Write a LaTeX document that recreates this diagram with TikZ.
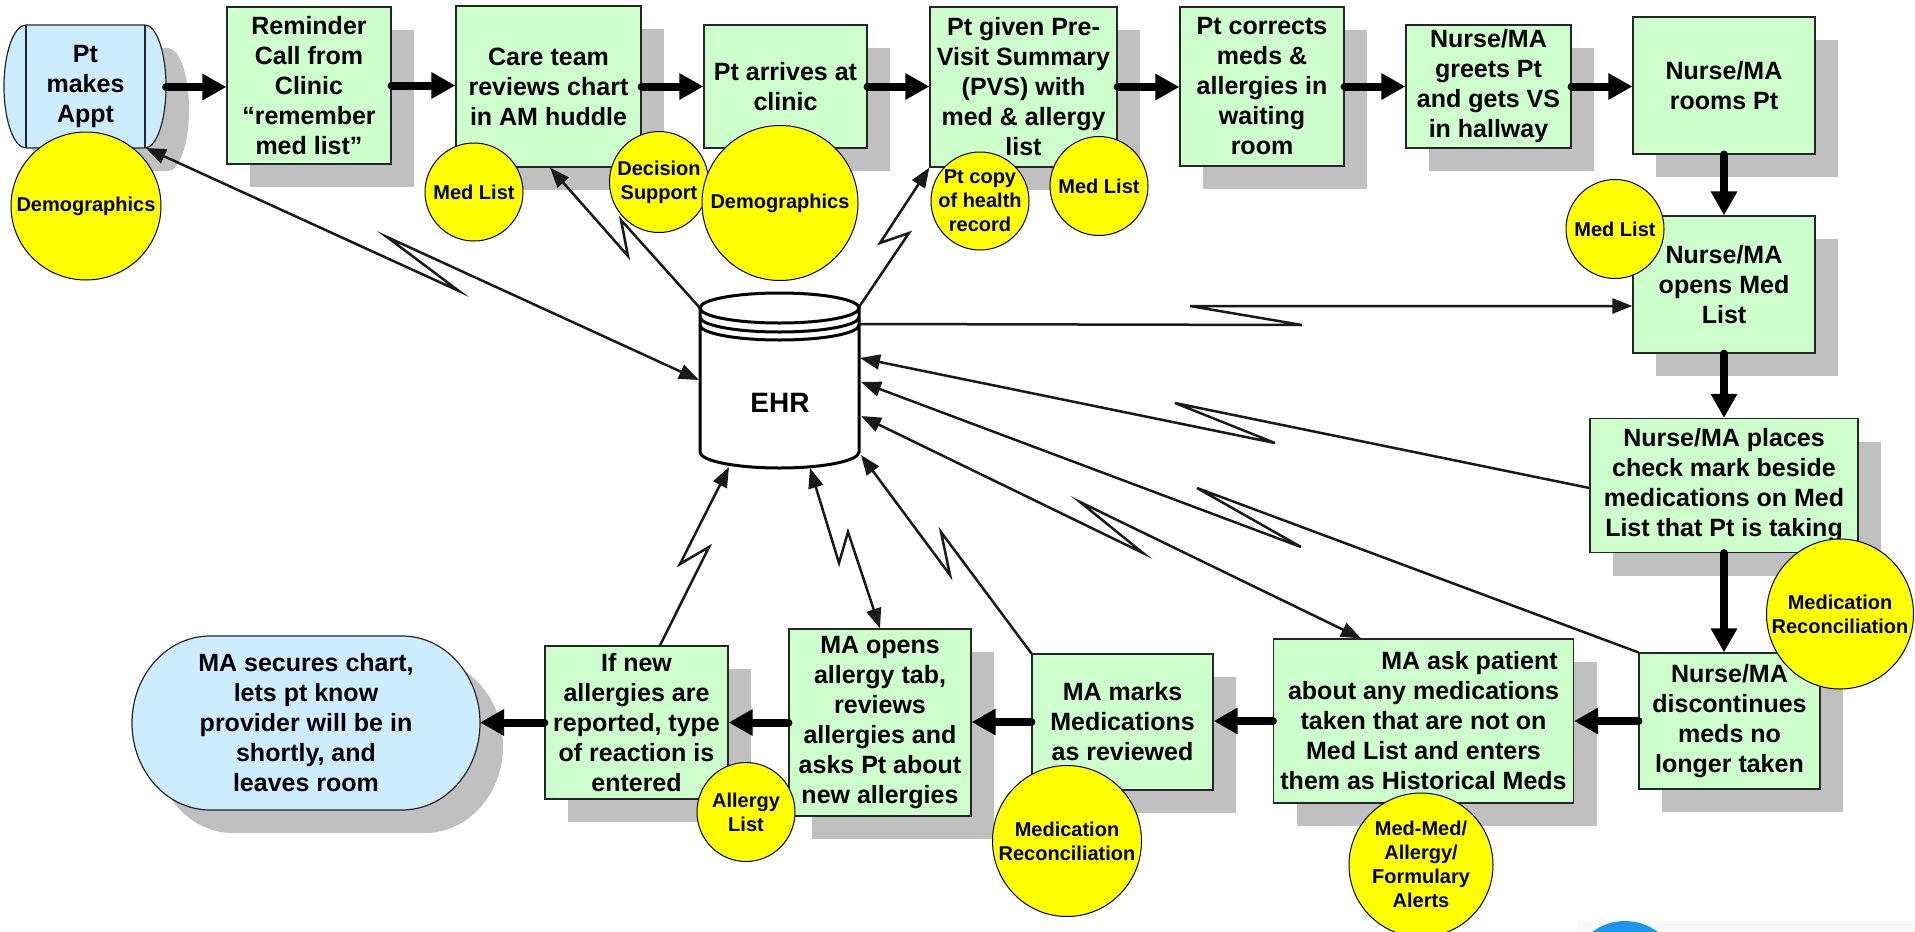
\documentclass[tikz,border=0pt]{standalone}
\usepackage{fontspec}
\setmainfont{Liberation Sans}
\usetikzlibrary{arrows.meta,shapes.geometric,shadows}
\definecolor{boxgreen}{HTML}{CCFFCC}
\definecolor{boxblue}{HTML}{CCECFF}
\definecolor{shadowgray}{HTML}{C0C0C0}
\definecolor{bubbleyellow}{HTML}{FFFF00}
\definecolor{logoblue}{HTML}{1E96EB}
\definecolor{bandgray}{HTML}{F8F8F8}
\newcommand{\bxfont}{\fontsize{25}{30}\selectfont\bfseries}
\newcommand{\ccfont}{\fontsize{20}{24}\selectfont\bfseries}
\begin{document}
\begin{tikzpicture}[x=1pt,y=-1pt,
  stepbox/.style={draw=black!85, line width=1.2pt, fill=boxgreen, inner sep=1pt, align=center, font=\bxfont,
    general shadow={draw=none, fill=shadowgray, shadow xshift=23pt, shadow yshift=-23pt}},
  bubble/.style={ellipse, draw=black, line width=1pt, fill=bubbleyellow, inner sep=0pt},
  bubbletext/.style={font=\ccfont, align=center, inner sep=0pt},
  bigarrow/.style={line width=8pt, line cap=round, -{Triangle[length=24pt,width=25pt]}},
  thinlink/.style={line width=2.5pt, draw=black!90, line join=miter},
  tipE/.style={-{Triangle[length=20pt,width=15pt]}},
  tipB/.style={{Triangle[length=20pt,width=15pt]}-{Triangle[length=20pt,width=15pt]}},
  ehrline/.style={line width=3pt, draw=black}
]
\clip (0,0) rectangle (1915,932);
\fill[white] (0,0) rectangle (1915,932);
% bottom-right faint band and partial logo
\fill[bandgray] (1577,921) rectangle (1915,932);
\fill[logoblue] (1625,976) circle[radius=55];

% ---- Pt makes Appt (horizontal storage shape)
\fill[shadowgray, shift={(23,23)}] (26,25) -- (145,25) arc[start angle=-90,end angle=90,x radius=21,y radius=61.5] -- (26,148) arc[start angle=90,end angle=270,x radius=22,y radius=61.5] -- cycle;
\filldraw[fill=boxblue, draw=black!85, line width=1.2pt] (26,25) -- (145,25) arc[start angle=-90,end angle=90,x radius=21,y radius=61.5] -- (26,148) arc[start angle=90,end angle=270,x radius=22,y radius=61.5] -- cycle;
\draw[black!85, line width=1.2pt] (26,25) -- (26,148) (145,25) -- (145,148);
\node[font=\bxfont, align=center] (appt) at (85.5,86.5) {Pt\\makes\\Appt};
\coordinate (apptE) at (166,87);
\coordinate (apptSE) at (146,148);

% ---- MA secures chart (stadium)
\fill[shadowgray, shift={(23,23)}] (210,636) -- (402,636) arc[start angle=-90,end angle=90,x radius=78,y radius=87] -- (210,810) arc[start angle=90,end angle=270,x radius=78,y radius=87] -- cycle;
\filldraw[fill=boxblue, draw=black!85, line width=1.2pt] (210,636) -- (402,636) arc[start angle=-90,end angle=90,x radius=78,y radius=87] -- (210,810) arc[start angle=90,end angle=270,x radius=78,y radius=87] -- cycle;
\node[font=\bxfont, align=center] (secure) at (306,723) {MA secures chart,\\lets pt know\\provider will be in\\shortly, and\\leaves room};
\coordinate (secureE) at (480,723);

% ---- process boxes
\node[stepbox, minimum width=164pt, minimum height=157pt] (reminder) at (309,85.5) {Reminder\\Call from\\Clinic\\“remember\\med list”};
\node[stepbox, minimum width=185pt, minimum height=161pt] (care) at (548.5,86.5) {Care team\\reviews chart\\in AM huddle};
\node[stepbox, minimum width=163pt, minimum height=123pt] (arrives) at (785.5,86.5) {Pt arrives at\\clinic};
\node[stepbox, minimum width=187pt, minimum height=160pt] (given) at (1023.5,87) {Pt given Pre-\\Visit Summary\\(PVS) with\\med \& allergy\\list};
\node[stepbox, minimum width=164pt, minimum height=159pt] (corrects) at (1262,86.5) {Pt corrects\\meds \&\\allergies in\\waiting\\room};
\node[stepbox, minimum width=165pt, minimum height=123pt] (greets) at (1488.5,86.5) {Nurse/MA\\greets Pt\\and gets VS\\in hallway};
\node[stepbox, minimum width=182pt, minimum height=137pt] (rooms) at (1724,85.5) {Nurse/MA\\rooms Pt};
\node[stepbox, minimum width=182pt, minimum height=137pt] (opens) at (1724,284.5) {Nurse/MA\\opens Med\\List};
\node[stepbox, minimum width=268pt, minimum height=134pt] (places) at (1724,485.5) {Nurse/MA places\\check mark beside\\medications on Med\\List that Pt is taking};
\node[stepbox, minimum width=181pt, minimum height=136pt] (disc) at (1729.5,721) {Nurse/MA\\discontinues\\meds no\\longer taken};
\node[stepbox, minimum width=300pt, minimum height=164pt] (ask) at (1423.5,721) {\hspace*{92pt}MA ask patient\\about any medications\\taken that are not on\\Med List and enters\\them as Historical Meds};
\node[stepbox, minimum width=181pt, minimum height=136pt] (marks) at (1122.5,722) {MA marks\\Medications\\as reviewed};
\node[stepbox, minimum width=182pt, minimum height=187pt] (allergy) at (880,722.5) {MA opens\\allergy tab,\\reviews\\allergies and\\asks Pt about\\new allergies};
\node[stepbox, minimum width=183pt, minimum height=153pt] (ifnew) at (636.5,722.5) {If new\\allergies are\\reported, type\\of reaction is\\entered};

% ---- EHR cylinder
\filldraw[ehrline, fill=white] (700,308) -- (700,452) arc[start angle=180,end angle=0,x radius=79.5,y radius=16] -- (859,308) -- cycle;
\filldraw[ehrline, fill=white] (779.5,308) ellipse [x radius=79.5, y radius=15];
\draw[ehrline] (700,317) arc[start angle=180,end angle=0,x radius=79.5,y radius=15];
\draw[ehrline] (700,325) arc[start angle=180,end angle=0,x radius=79.5,y radius=15];
\node[font=\fontsize{28}{32}\selectfont\bfseries] (ehr) at (780,403) {EHR};
\coordinate (ehrL) at (699,380);
\coordinate (ehrTL) at (700,308);
\coordinate (ehrTR) at (859,307);
\coordinate (ehrR0) at (859,324);
\coordinate (ehrR1) at (860,358);
\coordinate (ehrR2) at (861,382);
\coordinate (ehrR3) at (861,416);
\coordinate (ehrR4) at (861,455);
\coordinate (ehrB1) at (810,468);
\coordinate (ehrB2) at (729,467);

% ---- yellow data circles
\node[bubble, minimum width=150pt, minimum height=148pt] (demo1) at (86,206) {};
\node[bubbletext] (demo1t) at (demo1.center) {Demographics};
\node[bubble, minimum width=98pt, minimum height=98pt] (medlist1) at (474,192) {};
\node[bubbletext] (medlist1t) at (medlist1.center) {Med List};
\node[bubble, minimum width=99pt, minimum height=101pt] (decision) at (659,182) {};
\node[bubbletext] (decisiont) at (decision.center) {Decision\\Support};
\node[bubble, minimum width=156pt, minimum height=155pt] (demo2) at (780,203) {};
\node[bubbletext] (demo2t) at (demo2.center) {Demographics};
\node[bubble, minimum width=98pt, minimum height=98pt] (ptcopy) at (980,201) {};
\node[bubbletext] (ptcopyt) at (ptcopy.center) {Pt copy\\of health\\record};
\node[bubble, minimum width=98pt, minimum height=99pt] (medlist2) at (1099,186) {};
\node[bubbletext] (medlist2t) at (medlist2.center) {Med List};
\node[bubble, minimum width=98pt, minimum height=99pt] (medlist3) at (1615,229) {};
\node[bubbletext] (medlist3t) at (medlist3.center) {Med List};
\node[bubble, minimum width=147pt, minimum height=150pt] (medrec1) at (1840,614) {};
\node[bubbletext] (medrec1t) at (medrec1.center) {Medication\\Reconciliation};
\node[bubble, minimum width=149pt, minimum height=151pt] (medrec2) at (1067,841) {};
\node[bubbletext] (medrec2t) at (medrec2.center) {Medication\\Reconciliation};
\node[bubble, minimum width=98pt, minimum height=99pt] (allergylist) at (746,812) {};
\node[bubbletext] (allergylistt) at (allergylist.center) {Allergy\\List};
\node[bubble, minimum width=144pt, minimum height=144pt] (alerts) at (1421,865) {};
\node[bubbletext] (alertst) at (1421,864) {Med-Med/\\Allergy/\\Formulary\\Alerts};

% ---- thick process arrows
\draw[bigarrow] (apptE) -- (apptE -| reminder.west);
\draw[bigarrow] (reminder.east) -- (reminder.east -| care.west);
\draw[bigarrow] (care.east) -- (care.east -| arrives.west);
\draw[bigarrow] (arrives.east) -- (arrives.east -| given.west);
\draw[bigarrow] (given.east) -- (given.east -| corrects.west);
\draw[bigarrow] (corrects.east) -- (corrects.east -| greets.west);
\draw[bigarrow] (greets.east) -- (greets.east -| rooms.west);
\draw[bigarrow] (rooms.south) -- (opens.north);
\draw[bigarrow] (opens.south) -- (opens.south |- places.north);
\draw[bigarrow] (places.south) -- (places.south |- disc.north);
\draw[bigarrow] (disc.west) -- (disc.west -| ask.east);
\draw[bigarrow] (ask.west) -- (ask.west -| marks.east);
\draw[bigarrow] (marks.west) -- (marks.west -| allergy.east);
\draw[bigarrow] (allergy.west) -- (allergy.west -| ifnew.east);
\draw[bigarrow] (ifnew.west) -- (ifnew.west -| secureE);

% ---- EHR lightning connectors
\draw[thinlink, tipB] (apptSE) -- (459,291) -- (387,237) -- (ehrL);
\draw[thinlink, tipE] (ehrTL) -- (621,220) -- (628,256) -- ([xshift=1.5pt]care.south);
\draw[thinlink, tipE] (ehrTR) -- (909,233) -- (880,243) -- (given.south west);
\draw[thinlink, tipE] (ehrR0) -- (1302,325) -- (1190,306) -- ([yshift=-21.5pt]opens.west);
\draw[thinlink, tipE] ([yshift=-2.5pt]places.west) -- (1175,403) -- (1275,443) -- (ehrR1);
\draw[thinlink, tipE] (disc.north west) -- (1197,488) -- (1301,547) -- (ehrR2);
\draw[thinlink, tipB] (ehrR3) -- (1143,553) -- (1080,502) -- ([xshift=-62.5pt]ask.north);
\draw[thinlink, tipE] (marks.north west) -- (941,532) -- (950,575) -- (ehrR4);
\draw[thinlink, tipB] (ehrB1) -- (839,563) -- (848,532) -- (allergy.north);
\draw[thinlink, tipE] ([xshift=23.5pt]ifnew.north) -- (709,547) -- (680,564) -- (ehrB2);
\end{tikzpicture}
\end{document}
